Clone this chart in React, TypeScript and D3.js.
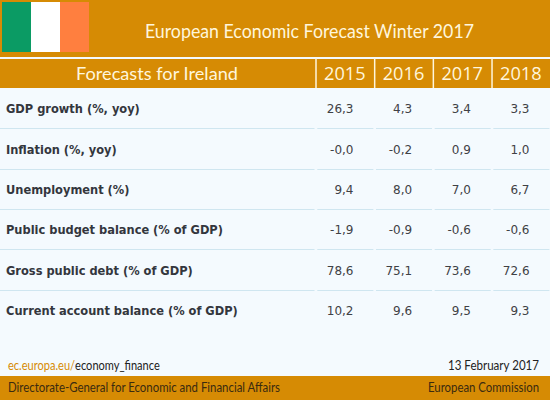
import React from 'react';
import * as d3 from 'd3';

const title = 'European Economic Forecast Winter 2017';
const tableTitle = 'Forecasts for Ireland';
const years = ['2015', '2016', '2017', '2018'];
const indicators = [
  'GDP growth (%, yoy)',
  'Inflation (%, yoy)',
  'Unemployment (%)',
  'Public budget balance (% of GDP)',
  'Gross public debt (% of GDP)',
  'Current account balance (% of GDP)',
];
const values2015 = ['26,3', '-0,0', '9,4', '-1,9', '78,6', '10,2'];
const values2016 = ['4,3', '-0,2', '8,0', '-0,9', '75,1', '9,6'];
const values2017 = ['3,4', '0,9', '7,0', '-0,6', '73,6', '9,5'];
const values2018 = ['3,3', '1,0', '6,7', '-0,6', '72,6', '9,3'];
const flagColors = ['#0b9b64', '#ffffff', '#ff7f3f'];

const W = 550;
const H = 400;
const ORANGE = '#d68b04';
const CREAM = '#fff6dc';
const HEAD_FONT = 'Lato, sans-serif';
const BODY_FONT = '"DejaVu Sans", sans-serif';

const App: React.FC = () => {
  const columns = [values2015, values2016, values2017, values2018];

  const x = d3.scaleBand<string>().domain(years).range([316, 550.7]);
  const y = d3.scaleBand<string>().domain(indicators).range([88, 330]);
  const flagX = d3.scaleBand<string>().domain(flagColors).range([2, 89]);

  return (
    <svg
      width={W}
      height={H}
      style={{ position: 'fixed', left: 0, top: 0, display: 'block' }}
    >
      <rect width={W} height={H} fill="#f4fafe" />

      {/* title band */}
      <rect width={W} height={57} fill={ORANGE} />
      {flagColors.map(c => (
        <rect key={c} x={flagX(c)} y={2} width={flagX.bandwidth()} height={50} fill={c} />
      ))}
      <text x={145} y={38} fill={CREAM} fontFamily={HEAD_FONT} fontSize={18.5} textLength={329} lengthAdjust="spacingAndGlyphs">{title}</text>

      {/* table header */}
      <rect y={59} width={W} height={29} fill={ORANGE} />
      <text x={76} y={80} fill={CREAM} fontFamily={HEAD_FONT} fontSize={18} textLength={162} lengthAdjust="spacingAndGlyphs">{tableTitle}</text>
      {years.map(yr => (
        <g key={yr}>
          <line x1={x(yr)!} x2={x(yr)!} y1={58} y2={88} stroke={CREAM} strokeWidth={1.5} />
          <text
            x={x(yr)! + x.bandwidth() / 2 - 0.5}
            y={80}
            textAnchor="middle"
            fill={CREAM}
            fontFamily='"Open Sans", sans-serif'
            fontSize={18.2}
          >
            {yr}
          </text>
        </g>
      ))}

      {/* rows */}
      {indicators.map((name, i) => {
        const top = y(name)!;
        const mid = top + y.bandwidth() / 2;
        const bottom = Math.round(top + y.bandwidth()) + 0.5;
        return (
          <g key={name}>
            <text x={6} y={mid + 5} fill="#33363d" fontFamily={BODY_FONT} fontWeight="bold" fontSize={12.7} style={{ fontStretch: 'condensed' }}>
              {name}
            </text>
            {years.map((yr, j) => (
              <text
                key={yr}
                x={x(yr)! + 37.5}
                y={mid + 5.3}
                textAnchor="end"
                fill="#3f4145"
                fontFamily={BODY_FONT}
                fontSize={12}
              >
                {columns[j][i]}
              </text>
            ))}
            {i < indicators.length - 1 && (
              <>
                <line x1={0} x2={314.5} y1={bottom} y2={bottom} stroke="#cfe6f0" />
                {years.map(yr => (
                  <line
                    key={yr}
                    x1={x(yr)! + 1.3}
                    x2={x(yr)! + x.bandwidth() - 1.3}
                    y1={bottom}
                    y2={bottom}
                    stroke="#cfe6f0"
                  />
                ))}
              </>
            )}
          </g>
        );
      })}

      {/* footer */}
      <text transform="translate(8,369.5) scale(0.885,1)" fontFamily={HEAD_FONT} fontSize={12.5}>
        <tspan fill={ORANGE}>ec.europa.eu/</tspan>
        <tspan fill="#222">economy_finance</tspan>
      </text>
      <text x={448} y={369.5} fill="#222" fontFamily={HEAD_FONT} fontSize={12.5} textLength={91} lengthAdjust="spacingAndGlyphs">13 February 2017</text>
      <rect y={376} width={W} height={24} fill={ORANGE} />
      <text x={8} y={391.7} fill="#3a2a10" fontFamily={HEAD_FONT} fontSize={12.5} textLength={272} lengthAdjust="spacingAndGlyphs">Directorate-General for Economic and Financial Affairs</text>
      <text x={428} y={391.7} fill="#3a2a10" fontFamily={HEAD_FONT} fontSize={12.5} textLength={111} lengthAdjust="spacingAndGlyphs">European Commission</text>
    </svg>
  );
};

export default App;
